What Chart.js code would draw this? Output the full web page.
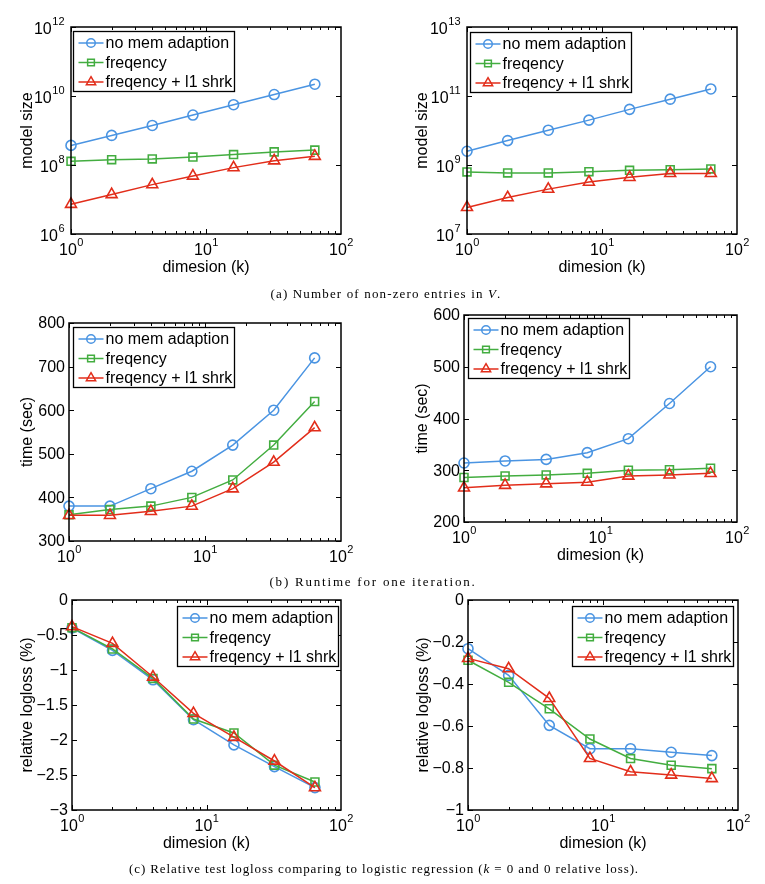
<!DOCTYPE html>
<html><head><meta charset="utf-8">
<script src="https://cdn.jsdelivr.net/npm/chart.js@4/dist/chart.umd.min.js"></script>
<style>
html,body{margin:0;padding:0;background:#fff}
body{width:765px;height:884px;position:relative;overflow:hidden}
canvas{position:absolute;left:0;top:0}
.cap{position:absolute;font-family:"Liberation Serif","Times New Roman",serif;font-size:13px;white-space:nowrap;color:#000;transform:translate(-50%,-50%);line-height:1}
</style></head><body>
<canvas id="c1" width="765" height="884"></canvas>
<canvas id="c2" width="765" height="884"></canvas>
<canvas id="c3" width="765" height="884"></canvas>
<canvas id="c4" width="765" height="884"></canvas>
<canvas id="c5" width="765" height="884"></canvas>
<canvas id="c6" width="765" height="884"></canvas>
<div class="cap" data-w="231" style="left:386px;top:293px">(a) Number of non-zero entries in <i>V</i>.</div>
<div class="cap" data-w="207" style="left:373px;top:581px">(b) Runtime for one iteration.</div>
<div class="cap" data-w="510" style="left:384px;top:868px">(c) Relative test logloss comparing to logistic regression (<i>k</i> = 0 and 0 relative loss).</div>
<script>
// ---------- data ----------
const dims = [1, 2, 4, 8, 16, 32, 64];
const names = ['no mem adaption', 'freqency', 'freqency + l1 shrk'];
const xExp = [0, 1, 2];

// (a) number of non-zero entries
const sizeLeftNoMem = [3.7e8, 7.2e8, 1.4e9, 2.8e9, 5.6e9, 1.1e10, 2.2e10];
const sizeLeftFreq  = [1.28e8, 1.43e8, 1.5e8, 1.7e8, 2.0e8, 2.4e8, 2.7e8];
const sizeLeftShrk  = [7.3e6, 1.4e7, 2.7e7, 4.8e7, 8.4e7, 1.33e8, 1.8e8];
const sizeLeftExp   = [6, 8, 10, 12];
const sizeRightNoMem = [2.5e9, 5.1e9, 1.02e10, 2.0e10, 4.1e10, 8.1e10, 1.6e11];
const sizeRightFreq  = [6.3e8, 5.9e8, 5.9e8, 6.4e8, 7.0e8, 7.3e8, 7.7e8];
const sizeRightShrk  = [5.9e7, 1.14e8, 2.0e8, 3.2e8, 4.4e8, 5.7e8, 5.7e8];
const sizeRightExp   = [7, 9, 11, 13];

// (b) runtime
const timeLeftNoMem = [380, 380, 420, 460, 520, 600, 720];
const timeLeftFreq  = [360, 372, 380, 400, 440, 520, 620];
const timeLeftShrk  = [359, 359, 368, 380, 420, 481, 560];
const timeLeftTicks = [300, 400, 500, 600, 700, 800];
const timeRightNoMem = [314, 318, 321, 334, 361, 429, 500];
const timeRightFreq  = [286, 289, 291, 294, 300, 301, 304];
const timeRightShrk  = [266, 271, 274, 277, 289, 291, 294];
const timeRightTicks = [200, 300, 400, 500, 600];

// (c) relative logloss
const lossLeftNoMem = [-0.40, -0.72, -1.14, -1.71, -2.07, -2.38, -2.68];
const lossLeftFreq  = [-0.395, -0.70, -1.12, -1.70, -1.90, -2.36, -2.60];
const lossLeftShrk  = [-0.38, -0.62, -1.10, -1.62, -1.96, -2.30, -2.68];
const lossLeftTicks = [0, -0.5, -1, -1.5, -2, -2.5, -3];
const lossRightNoMem = [-0.232, -0.359, -0.597, -0.708, -0.708, -0.725, -0.741];
const lossRightFreq  = [-0.287, -0.392, -0.518, -0.662, -0.755, -0.787, -0.803];
const lossRightShrk  = [-0.278, -0.327, -0.468, -0.754, -0.818, -0.833, -0.850];
const lossRightTicks = [0, -0.2, -0.4, -0.6, -0.8, -1];

// ---------- styles ----------
const colors = ['#4a94e2', '#43ad40', '#e22d1a'];
const marks = ['circle', 'rect', 'triangle'];
const radii = [5, 5.6, 6.3];
const FONT = '"Liberation Sans", Arial, Helvetica, sans-serif';

const panels = [
  {id: 'c1', plot: [71, 27, 341, 234], log: true, yMin: 1e6, yMax: 1e12, yExp: sizeLeftExp,
   series: [sizeLeftNoMem, sizeLeftFreq, sizeLeftShrk], yTitle: 'model size', yTitleX: 28, xTitle: true, legend: [73, 31]},
  {id: 'c2', plot: [467, 27, 737, 234], log: true, yMin: 1e7, yMax: 1e13, yExp: sizeRightExp,
   series: [sizeRightNoMem, sizeRightFreq, sizeRightShrk], yTitle: 'model size', yTitleX: 423, xTitle: true, legend: [470, 32]},
  {id: 'c3', plot: [69, 323, 341, 541], log: false, yMin: 300, yMax: 800, yTicks: timeLeftTicks,
   series: [timeLeftNoMem, timeLeftFreq, timeLeftShrk], yTitle: 'time (sec)', yTitleX: 28, xTitle: false, legend: [73, 327]},
  {id: 'c4', plot: [464, 315, 737, 522], log: false, yMin: 200, yMax: 600, yTicks: timeRightTicks,
   series: [timeRightNoMem, timeRightFreq, timeRightShrk], yTitle: 'time (sec)', yTitleX: 423, xTitle: true, legend: [468, 318]},
  {id: 'c5', plot: [72, 600, 341, 810], log: false, yMin: -3, yMax: 0, yTicks: lossLeftTicks,
   series: [lossLeftNoMem, lossLeftFreq, lossLeftShrk], yTitle: 'relative logloss (%)', yTitleX: 28, xTitle: true, legend: [177, 606]},
  {id: 'c6', plot: [468, 600, 738, 810], log: false, yMin: -1, yMax: 0, yTicks: lossRightTicks,
   series: [lossRightNoMem, lossRightFreq, lossRightShrk], yTitle: 'relative logloss (%)', yTitleX: 424, xTitle: true, legend: [572, 606]}
];

function fmt(v) {
  const s = String(Math.abs(v));
  return v < 0 ? '\u2212' + s : s;
}

function drawMarker(ctx, style, x, y, r) {
  ctx.beginPath();
  if (style === 'circle') {
    ctx.arc(x, y, r, 0, Math.PI * 2);
  } else if (style === 'rect') {
    const s = r * Math.SQRT1_2;
    ctx.rect(x - s, y - s, 2 * s, 2 * s);
  } else {
    for (let k = 0; k < 3; k++) {
      const ang = k * 2 * Math.PI / 3;
      const px = x + Math.sin(ang) * r, py = y - Math.cos(ang) * r;
      if (k === 0) ctx.moveTo(px, py); else ctx.lineTo(px, py);
    }
    ctx.closePath();
  }
  ctx.stroke();
}

function pow10Label(ctx, exp, xAnchor, yBase, mode) {
  ctx.font = '16px ' + FONT;
  const w1 = ctx.measureText('10').width;
  ctx.font = '11px ' + FONT;
  const w2 = ctx.measureText(String(exp)).width;
  let x0;
  if (mode === 'right') x0 = xAnchor - w1 - w2;
  else x0 = xAnchor - (w1 + w2) / 2;
  ctx.textAlign = 'left';
  ctx.textBaseline = 'middle';
  ctx.font = '16px ' + FONT;
  ctx.fillText('10', x0, yBase);
  ctx.font = '11px ' + FONT;
  ctx.fillText(String(exp), x0 + w1 + 0.5, yBase - 8.5);
}

function makeDecor(p) {
  return {
    id: 'decor_' + p.id,
    afterDraw(chart) {
      const ctx = chart.ctx, a = chart.chartArea, xs = chart.scales.x, ys = chart.scales.y;
      ctx.save();
      ctx.strokeStyle = '#000';
      ctx.fillStyle = '#000';
      // axes box
      ctx.lineWidth = 1.5;
      ctx.strokeRect(a.left, a.top, a.right - a.left, a.bottom - a.top);
      // x ticks (log)
      ctx.lineWidth = 1;
      ctx.beginPath();
      for (let d = 0; d < 2; d++) {
        for (let k = 1; k <= 9; k++) {
          const v = k * Math.pow(10, d);
          const px = Math.round(xs.getPixelForValue(v)) + 0.5;
          const len = k === 1 ? 5 : 3;
          ctx.moveTo(px, a.bottom); ctx.lineTo(px, a.bottom - len);
          ctx.moveTo(px, a.top); ctx.lineTo(px, a.top + len);
        }
      }
      // y ticks
      const yVals = p.log ? p.yExp.map(e => Math.pow(10, e)) : p.yTicks;
      yVals.forEach(v => {
        const py = Math.round(ys.getPixelForValue(v)) + 0.5;
        ctx.moveTo(a.left, py); ctx.lineTo(a.left + 5, py);
        ctx.moveTo(a.right, py); ctx.lineTo(a.right - 5, py);
      });
      ctx.stroke();
      // x tick labels
      xExp.forEach(e => {
        const px = xs.getPixelForValue(Math.pow(10, e));
        pow10Label(ctx, e, px, a.bottom + 17, 'center');
      });
      // y tick labels
      if (p.log) {
        p.yExp.forEach(e => {
          const py = ys.getPixelForValue(Math.pow(10, e));
          pow10Label(ctx, e, a.left - 7, py + 3, 'right');
        });
      } else {
        ctx.font = '16px ' + FONT;
        ctx.textAlign = 'right';
        ctx.textBaseline = 'middle';
        p.yTicks.forEach(v => {
          ctx.fillText(fmt(v), a.left - 4, ys.getPixelForValue(v) + 1);
        });
      }
      // axis titles
      ctx.font = '16px ' + FONT;
      ctx.textAlign = 'center';
      ctx.textBaseline = 'middle';
      if (p.xTitle) ctx.fillText('dimesion (k)', (a.left + a.right) / 2, a.bottom + 34);
      ctx.save();
      ctx.translate(p.yTitleX, (a.top + a.bottom) / 2);
      ctx.rotate(-Math.PI / 2);
      ctx.fillText(p.yTitle, 0, 0);
      ctx.restore();
      // legend
      const lx = p.legend[0], ly = p.legend[1], lw = 161, lh = 60;
      ctx.fillStyle = '#fff';
      ctx.fillRect(lx, ly, lw, lh);
      ctx.strokeStyle = '#000';
      ctx.lineWidth = 1.3;
      ctx.strokeRect(lx + 0.5, ly + 0.5, lw, lh);
      const rows = [12, 31.5, 51];
      names.forEach((n, i) => {
        const ry = ly + rows[i];
        ctx.strokeStyle = colors[i];
        ctx.lineWidth = 1.5;
        ctx.beginPath();
        ctx.moveTo(lx + 5.5, ry); ctx.lineTo(lx + 30.5, ry);
        ctx.stroke();
        drawMarker(ctx, marks[i], lx + 18, ry, radii[i] * 0.85);
        ctx.fillStyle = '#000';
        ctx.font = '16px ' + FONT;
        ctx.textAlign = 'left';
        ctx.textBaseline = 'middle';
        ctx.fillText(n, lx + 32.5, ry + 1);
      });
      ctx.restore();
    }
  };
}

panels.forEach(p => {
  const datasets = p.series.map((vals, i) => ({
    label: names[i],
    data: dims.map((x, j) => ({x: x, y: vals[j]})),
    borderColor: colors[i],
    borderWidth: 1.5,
    pointStyle: marks[i],
    pointRadius: radii[i],
    pointBorderWidth: 1.6,
    pointBorderColor: colors[i],
    pointBackgroundColor: 'rgba(0,0,0,0)',
    tension: 0,
    fill: false,
    clip: false,
    order: 2 - i
  }));
  new Chart(document.getElementById(p.id), {
    type: 'line',
    data: {datasets: datasets},
    options: {
      responsive: false,
      animation: false,
      devicePixelRatio: 1,
      layout: {padding: {left: p.plot[0], top: p.plot[1], right: 765 - p.plot[2], bottom: 884 - p.plot[3]}},
      plugins: {legend: {display: false}, tooltip: {enabled: false}},
      scales: {
        x: {type: 'logarithmic', min: 1, max: 100, display: false},
        y: {type: p.log ? 'logarithmic' : 'linear', min: p.yMin, max: p.yMax, display: false}
      }
    },
    plugins: [makeDecor(p)]
  });
});

// widen captions to the reference's text width (Computer Modern is wider than Times)
document.querySelectorAll('.cap').forEach(el => {
  const target = parseFloat(el.dataset.w);
  const w = el.getBoundingClientRect().width;
  const n = el.textContent.length;
  if (n > 1 && w < target) el.style.letterSpacing = ((target - w) / n).toFixed(3) + 'px';
});
</script>
</body></html>
